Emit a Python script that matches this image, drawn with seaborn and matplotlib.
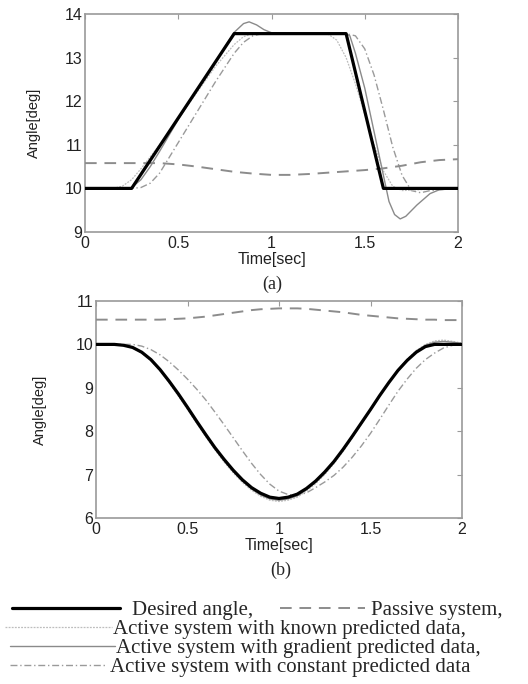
import numpy as np
import pandas as pd
import matplotlib
matplotlib.use("Agg")
import matplotlib.pyplot as plt
import seaborn as sns

# ---------------- data ----------------
# Panel (a): trapezoidal reference
t_des_a = [0.0, 0.25, 0.8, 1.4, 1.6, 2.0]
y_des_a = [10.0, 10.0, 13.55, 13.55, 10.0, 10.0]

t_pas_a = [0.0, 0.2, 0.4, 0.5, 0.6, 0.7, 0.8, 0.9, 1.0, 1.1, 1.2, 1.3, 1.4, 1.5, 1.6, 1.7, 1.8, 1.9, 2.0]
y_pas_a = [10.58, 10.58, 10.58, 10.55, 10.5, 10.44, 10.38, 10.34, 10.31, 10.31, 10.33, 10.36, 10.39, 10.42,
           10.46, 10.52, 10.6, 10.65, 10.67]

t_kno_a = [0.0, 0.15, 0.2, 0.25, 0.3, 0.4, 0.5, 0.6, 0.7, 0.8, 0.85, 0.9, 1.3, 1.35, 1.4, 1.45, 1.5, 1.55,
           1.6, 1.65, 1.7, 1.8, 2.0]
y_kno_a = [10.0, 10.0, 10.05, 10.2, 10.45, 11.0, 11.6, 12.2, 12.8, 13.3, 13.48, 13.55, 13.55, 13.4, 13.0,
           12.4, 11.7, 11.0, 10.4, 10.05, 9.95, 9.97, 10.0]

t_gra_a = [0.0, 0.2, 0.25, 0.3, 0.35, 0.4, 0.5, 0.6, 0.7, 0.75, 0.8, 0.85, 0.88, 0.92, 0.96, 1.0, 1.1, 1.4,
           1.42, 1.45, 1.5, 1.55, 1.6, 1.63, 1.66, 1.69, 1.72, 1.78, 1.85, 1.9, 2.0]
y_gra_a = [10.0, 10.0, 10.02, 10.2, 10.5, 10.85, 11.58, 12.25, 12.9, 13.25, 13.58, 13.78, 13.82, 13.75,
           13.64, 13.57, 13.55, 13.55, 13.5, 13.1, 12.3, 11.3, 10.3, 9.7, 9.4, 9.3, 9.36, 9.62, 9.88, 9.97, 10.0]

t_con_a = [0.0, 0.25, 0.3, 0.35, 0.4, 0.45, 0.5, 0.55, 0.6, 0.7, 0.8, 0.85, 0.9, 0.95, 1.4, 1.45, 1.5, 1.55,
           1.6, 1.65, 1.7, 1.75, 1.8, 1.85, 1.9, 2.0]
y_con_a = [10.0, 10.0, 10.02, 10.12, 10.35, 10.7, 11.05, 11.4, 11.75, 12.45, 13.1, 13.35, 13.5, 13.55,
           13.55, 13.5, 13.2, 12.6, 11.8, 10.95, 10.3, 9.95, 9.9, 9.95, 9.97, 10.0]

# Panel (b): smooth reference, sampled every 0.05 s
t_b = [0.0, 0.05, 0.1, 0.15, 0.2, 0.25, 0.3, 0.35, 0.4, 0.45, 0.5, 0.55, 0.6, 0.65, 0.7, 0.75, 0.8, 0.85,
       0.9, 0.95, 1.0, 1.05, 1.1, 1.15, 1.2, 1.25, 1.3, 1.35, 1.4, 1.45, 1.5, 1.55, 1.6, 1.65, 1.7, 1.75,
       1.8, 1.85, 1.9, 1.95, 2.0]
y_des_b = [10.0, 10.0, 10.0, 9.98, 9.93, 9.82, 9.65, 9.42, 9.15, 8.86, 8.55, 8.23, 7.92, 7.62, 7.35, 7.10,
           6.88, 6.70, 6.57, 6.48, 6.45, 6.48, 6.55, 6.68, 6.85, 7.06, 7.30, 7.58, 7.88, 8.19, 8.50, 8.82,
           9.12, 9.40, 9.63, 9.82, 9.95, 10.0, 10.0, 10.0, 10.0]
y_pas_b = [10.57, 10.57, 10.57, 10.57, 10.57, 10.57, 10.57, 10.57, 10.58, 10.59, 10.6, 10.62, 10.64, 10.67,
           10.7, 10.73, 10.76, 10.79, 10.81, 10.82, 10.83, 10.83, 10.83, 10.82, 10.8, 10.78, 10.76, 10.74,
           10.71, 10.68, 10.66, 10.64, 10.62, 10.6, 10.59, 10.58, 10.57, 10.57, 10.56, 10.56, 10.56]
y_kno_b = [10.0, 10.0, 10.0, 9.98, 9.92, 9.8, 9.62, 9.39, 9.11, 8.81, 8.5, 8.18, 7.87, 7.57, 7.29, 7.04,
           6.82, 6.64, 6.5, 6.41, 6.38, 6.41, 6.48, 6.62, 6.79, 7.0, 7.25, 7.53, 7.84, 8.16, 8.48, 8.81,
           9.12, 9.41, 9.66, 9.86, 10.0, 10.08, 10.1, 10.07, 10.03]
y_gra_b = [10.0, 10.0, 10.0, 9.98, 9.93, 9.81, 9.64, 9.41, 9.13, 8.84, 8.52, 8.2, 7.89, 7.6, 7.32, 7.07,
           6.85, 6.67, 6.53, 6.44, 6.41, 6.44, 6.51, 6.65, 6.82, 7.03, 7.28, 7.56, 7.86, 8.18, 8.49, 8.81,
           9.12, 9.41, 9.65, 9.84, 9.98, 10.05, 10.07, 10.05, 10.02]
y_con_b = [10.0, 10.0, 10.0, 10.0, 10.0, 9.96, 9.88, 9.76, 9.6, 9.41, 9.2, 8.97, 8.72, 8.44, 8.15, 7.85,
           7.55, 7.26, 7.0, 6.78, 6.62, 6.54, 6.52, 6.58, 6.7, 6.83, 6.98, 7.17, 7.4, 7.66, 7.95, 8.27,
           8.6, 8.92, 9.2, 9.45, 9.65, 9.8, 9.92, 9.98, 10.0]

labels = ["Desired angle,", "Passive system,", "Active system with known predicted data,",
          "Active system with gradient predicted data,", "Active system with constant predicted data"]

# ---------------- style ----------------
sns.set_style("white")
plt.rcParams["font.family"] = ["Liberation Sans", "DejaVu Sans"]

styles = [
    dict(color="black", lw=2.3, ls="-"),
    dict(color="#8c8c8c", lw=1.4, ls=(0, (6, 4))),
    dict(color="#bdbdbd", lw=0.9, ls=(0, (1.5, 1))),
    dict(color="#8a8a8a", lw=1.0, ls="-"),
    dict(color="#9a9a9a", lw=1.0, ls=(0, (5, 2, 1, 2))),
]

W, H = 528, 684
fig = plt.figure(figsize=(W / 100, H / 100), dpi=100)
ax_a = fig.add_axes([85 / W, 1 - 232 / H, (458 - 85) / W, (232 - 14) / H])
ax_b = fig.add_axes([96 / W, 1 - 518 / H, (462 - 96) / W, (518 - 301) / H])

series_a = [(t_des_a, y_des_a), (t_pas_a, y_pas_a), (t_kno_a, y_kno_a), (t_gra_a, y_gra_a), (t_con_a, y_con_a)]
series_b = [(t_b, y_des_b), (t_b, y_pas_b), (t_b, y_kno_b), (t_b, y_gra_b), (t_b, y_con_b)]

draw_order = [4, 2, 3, 1, 0]
for ax, series in ((ax_a, series_a), (ax_b, series_b)):
    for i in draw_order:
        tt, yy = series[i]
        df = pd.DataFrame({"t": tt, "y": yy})
        st = styles[i]
        sns.lineplot(data=df, x="t", y="y", ax=ax, color=st["color"], linewidth=st["lw"],
                     linestyle=st["ls"], label=labels[i], legend=False, sort=False, zorder=3 + (i == 0))

ax_a.set_ylim(9, 14)
ax_b.set_ylim(6, 11)
for ax in (ax_a, ax_b):
    ax.set_xlim(0, 2)
    ax.set_xticks([0, 0.5, 1, 1.5, 2])
    ax.set_xticklabels(["0", "0.5", "1", "1.5", "2"])
    for s in ax.spines.values():
        s.set_color("#9a9a9a")
        s.set_linewidth(1.2)
    ax.tick_params(direction="in", length=3.5, width=0.8, color="#9a9a9a", top=True, right=True,
                   labelsize=11.5, labelcolor="#222222", pad=3)
    ax.tick_params(axis="y", pad=2)
    ax.set_xlabel("Time[sec]", fontsize=11.5, color="#222222")
    ax.set_ylabel("Angle[deg]", fontsize=10.5, color="#222222")
ax_a.set_yticks([9, 10, 11, 12, 13, 14])
ax_b.set_yticks([6, 7, 8, 9, 10, 11])
ax_a.xaxis.set_label_coords(0.5, -0.09)
ax_b.xaxis.set_label_coords(0.5, -0.09)
ax_a.yaxis.set_label_coords(-0.118, 0.5)
ax_b.yaxis.set_label_coords(-0.135, 0.5)

serif = ["Liberation Serif", "DejaVu Serif"]
fig.text(272 / W, 1 - 284 / H, "(a)", ha="center", va="center", fontsize=13, family=serif)
fig.text(281 / W, 1 - 570 / H, "(b)", ha="center", va="center", fontsize=13, family=serif)

# ---------------- legend ----------------
handles = {}
for line in ax_a.get_lines():
    handles[line.get_label()] = line

fs = 15
em = fs * 100 / 72.0


def add_leg(idx, x0, yc, hlen_px, pad_px):
    fig.legend([handles[labels[idx]]], [labels[idx]], loc="center left",
               bbox_to_anchor=(x0 / W, 1 - yc / H), frameon=False, borderpad=0, borderaxespad=0,
               handlelength=hlen_px / em, handletextpad=pad_px / em,
               prop={"family": serif, "size": fs})


add_leg(0, 12, 610, 108, 12)
add_leg(1, 280, 610, 85, 6)
add_leg(2, 5, 629, 107, 1)
add_leg(3, 10, 648, 105, 1)
add_leg(4, 10, 667, 97, 3)

fig.savefig("out.png", dpi=100)
